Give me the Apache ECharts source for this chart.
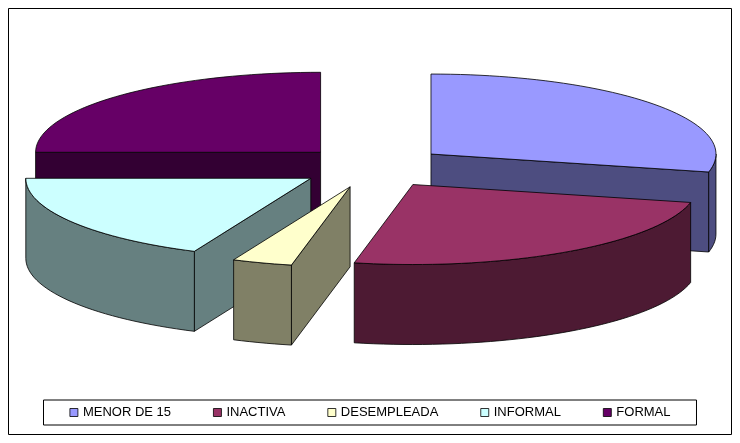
<!DOCTYPE html>
<html>
<head>
<meta charset="utf-8">
<script src="https://cdn.jsdelivr.net/npm/echarts@6/dist/echarts.min.js"></script>
<style>
  html, body { margin: 0; padding: 0; background: #fff; }
  #chart { width: 740px; height: 443px; }
</style>
</head>
<body>
<div id="chart"></div>
<script>
const categories = ['MENOR DE 15', 'INACTIVA', 'DESEMPLEADA', 'INFORMAL', 'FORMAL']
const values = [28.6, 24.7, 3.4, 18.3, 25.0]
const topColors = ['#9999FF', '#993366', '#FFFFCC', '#CCFFFF', '#660066']
const sideColors = ['#4D4D80', '#4D1A33', '#808066', '#668080', '#330033']

// pie geometry (screen px)
const cx = 373, cy = 167, rx = 285, ry = 80, depth = 80, explode = 0.26

const total = values.reduce((a, b) => a + b, 0)
const starts = []
let acc = 0
values.forEach(v => { starts.push(acc / total * 360); acc += v })

const rad = d => d * Math.PI / 180

function sliceGeom(i) {
  let a0 = starts[i]
  let a1 = a0 + values[i] / total * 360
  let mid = rad((a0 + a1) / 2)
  let ox = cx + explode * rx * Math.sin(mid)
  let oy = cy - explode * ry * Math.cos(mid)
  let pt = (deg, h) => [ox + rx * Math.sin(rad(deg)), oy - ry * Math.cos(rad(deg)) + (h || 0)]
  return { a0, a1, ox, oy, pt }
}

function arc(g, from, to, h) {
  let pts = []
  let n = Math.max(2, Math.ceil((to - from) / 2))
  for (let k = 0; k <= n; k++) pts.push(g.pt(from + (to - from) * k / n, h))
  return pts
}

function renderSlice(i) {
  return function () {
    let g = sliceGeom(i)
    let line = { stroke: '#000', lineWidth: 0.8 }
    let children = []
    let wall = (deg) => {
      let p = g.pt(deg)
      children.push({
        type: 'polygon',
        shape: { points: [[g.ox, g.oy], p, [p[0], p[1] + depth], [g.ox, g.oy + depth]] },
        style: Object.assign({ fill: sideColors[i] }, line)
      })
    }
    // only the radial walls facing the viewer
    if (-Math.sin(rad(g.a0)) > 0) wall(g.a0)
    if (Math.sin(rad(g.a1)) > 0) wall(g.a1)
    // outer curved wall on the front half
    let f = Math.max(g.a0, 90), t = Math.min(g.a1, 270)
    if (t > f) {
      let topArc = arc(g, f, t, 0)
      let botArc = arc(g, f, t, depth).reverse()
      children.push({
        type: 'polygon',
        shape: { points: topArc.concat(botArc) },
        style: Object.assign({ fill: sideColors[i] }, line)
      })
    }
    // top face
    children.push({
      type: 'polygon',
      shape: { points: [[g.ox, g.oy]].concat(arc(g, g.a0, g.a1, 0)) },
      style: Object.assign({ fill: topColors[i] }, line)
    })
    return { type: 'group', children }
  }
}

// paint back slices first
const order = categories.map((c, i) => {
  let g = sliceGeom(i)
  return { i, y: -Math.cos(rad((g.a0 + g.a1) / 2)) }
})

const series = categories.map((name, i) => ({
  name,
  type: 'custom',
  coordinateSystem: 'none',
  renderItem: renderSlice(i),
  data: [values[i]],
  itemStyle: { color: topColors[i] },
  z: 2 + order.filter(o => o.y < order[i].y).length
}))

const chart = echarts.init(document.getElementById('chart'))
chart.setOption({
  animation: false,
  legend: {
    data: categories.map((name, i) => ({
      name,
      itemStyle: { color: topColors[i], borderColor: '#000', borderWidth: 0.8 }
    })),
    bottom: 18,
    left: 'center',
    icon: 'rect',
    itemWidth: 8,
    itemHeight: 8,
    itemGap: 42,
    borderColor: '#000',
    borderWidth: 1,
    borderRadius: 0,
    padding: [6, 26],
    textStyle: { fontFamily: 'Liberation Sans', fontSize: 13, color: '#000' },
    selectedMode: false
  },
  graphic: [{
    type: 'rect',
    shape: { x: 8.5, y: 8.5, width: 723, height: 426 },
    style: { fill: 'none', stroke: '#000', lineWidth: 1 },
    silent: true
  }],
  series
})
</script>
</body>
</html>
